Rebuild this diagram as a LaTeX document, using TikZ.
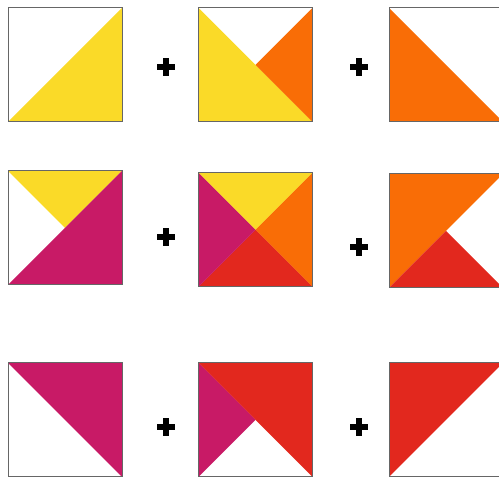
\documentclass[tikz,border=0pt]{standalone}
\definecolor{cyel}{HTML}{FADA28}
\definecolor{cora}{HTML}{F96D06}
\definecolor{cmag}{HTML}{C81A66}
\definecolor{cred}{HTML}{E2281E}
\tikzset{
  frame/.style={draw=black!60, line width=1pt},
  plusarm/.style={fill=black},
}
\newcommand\plussign[2]{%
  \fill[plusarm] (#1-9,#2-2.6) rectangle (#1+9,#2+2.6);
  \fill[plusarm] (#1-2.6,#2-9) rectangle (#1+2.6,#2+9);}
\begin{document}
\begin{tikzpicture}[x=1pt,y=-1pt]
\useasboundingbox (0,0) rectangle (499,478);
\coordinate (TL) at (0,0);
% Row 1
\begin{scope}[shift={(8,8)}]
  \fill[cyel] (0,114) -- (114,0) -- (114,114) -- cycle;
  \draw[frame] (0,0) rectangle (114,114);
\end{scope}
\begin{scope}[shift={(198.5,8)}]
  \fill[cyel] (0,0) -- (114,114) -- (0,114) -- cycle;
  \fill[cora] (114,0) -- (57,57) -- (114,114) -- cycle;
  \draw[frame] (0,0) rectangle (114,114);
\end{scope}
\begin{scope}[shift={(389,8)}]
  \fill[cora] (0,0) -- (114,114) -- (0,114) -- cycle;
  \draw[frame] (0,0) rectangle (114,114);
\end{scope}
\plussign{166}{67}
\plussign{359}{67}
% Row 2
\begin{scope}[shift={(8,171)}]
  \fill[cyel] (0,0) -- (114,0) -- (57,57) -- cycle;
  \fill[cmag] (114,0) -- (114,114) -- (0,114) -- cycle;
  \draw[frame] (0,0) rectangle (114,114);
\end{scope}
\begin{scope}[shift={(198.5,173)}]
  \fill[cyel] (0,0) -- (114,0) -- (57,57) -- cycle;
  \fill[cora] (114,0) -- (114,114) -- (57,57) -- cycle;
  \fill[cred] (0,114) -- (114,114) -- (57,57) -- cycle;
  \fill[cmag] (0,0) -- (0,114) -- (57,57) -- cycle;
  \draw[frame] (0,0) rectangle (114,114);
\end{scope}
\begin{scope}[shift={(389,174)}]
  \fill[cora] (0,0) -- (114,0) -- (0,114) -- cycle;
  \fill[cred] (0,114) -- (57,57) -- (114,114) -- cycle;
  \draw[frame] (0,0) rectangle (114,114);
\end{scope}
\plussign{166}{237}
\plussign{359}{247}
% Row 3
\begin{scope}[shift={(8,363)}]
  \fill[cmag] (0,0) -- (114,0) -- (114,114) -- cycle;
  \draw[frame] (0,0) rectangle (114,114);
\end{scope}
\begin{scope}[shift={(198.5,363)}]
  \fill[cred] (0,0) -- (114,0) -- (114,114) -- cycle;
  \fill[cmag] (0,0) -- (57,57) -- (0,114) -- cycle;
  \draw[frame] (0,0) rectangle (114,114);
\end{scope}
\begin{scope}[shift={(389,363)}]
  \fill[cred] (0,0) -- (114,0) -- (0,114) -- cycle;
  \draw[frame] (0,0) rectangle (114,114);
\end{scope}
\plussign{166}{427}
\plussign{359}{427}
\end{tikzpicture}
\end{document}
